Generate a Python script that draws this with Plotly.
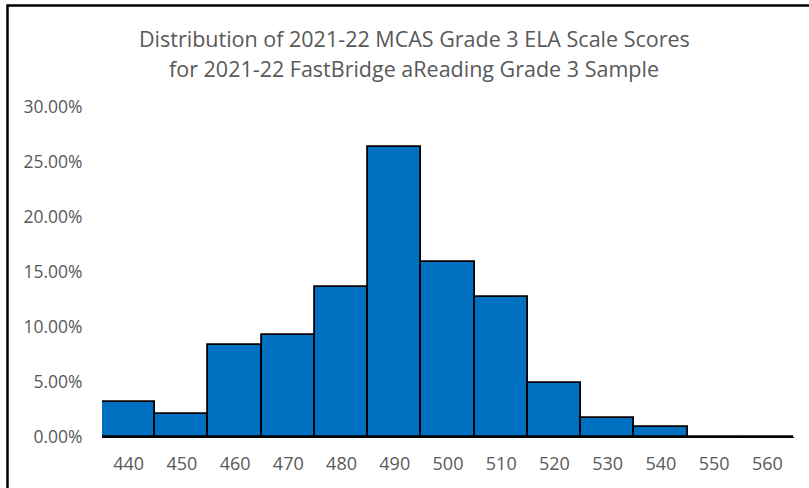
import plotly.graph_objects as go

# Scale score bins and share of students in each bin
scores = ["440", "450", "460", "470", "480", "490", "500", "510", "520", "530", "540", "550", "560"]
pct = [0.032, 0.021, 0.084, 0.093, 0.136, 0.264, 0.159, 0.127, 0.049, 0.017, 0.009, 0.0, 0.0]
y_ticks = [0, 0.05, 0.10, 0.15, 0.20, 0.25, 0.30]
title_lines = [
    "Distribution of 2021-22 MCAS Grade 3 ELA Scale Scores",
    "for 2021-22 FastBridge aReading Grade 3 Sample",
]

W, H = 809, 488
ML, MR, MT, MB = 102, 15, 107, 51
GRAY = "#595959"
FONT = "'Open Sans', 'Liberation Sans', sans-serif"

fig = go.Figure()
fig.add_trace(go.Bar(
    x=scores, y=pct,
    marker=dict(color="#0070C0", line=dict(color="black", width=1.8)),
    hovertemplate="%{x}: %{y:.2%}<extra></extra>",
))

pw, ph = W - ML - MR, H - MT - MB


def px_x(x):
    return (x - ML) / pw


def px_y(y):
    return (H - MB - y) / ph


# outer chart border (only left and top edges fall inside the picture)
fig.add_shape(type="rect", xref="paper", yref="paper",
              x0=px_x(7.5), x1=px_x(W + 20), y0=px_y(H + 20), y1=px_y(5.5),
              line=dict(color="black", width=2.5), fillcolor="rgba(0,0,0,0)", layer="above")

# two-line title
for text, yc in zip(title_lines, [38, 68]):
    fig.add_annotation(text=text, xref="paper", yref="paper",
                       x=px_x(414), y=px_y(yc), xanchor="center", yanchor="middle",
                       showarrow=False, font=dict(size=21.5, color=GRAY, family=FONT))

fig.update_layout(
    width=W, height=H,
    margin=dict(l=ML, r=MR, t=MT, b=MB),
    paper_bgcolor="white", plot_bgcolor="white",
    font=dict(family=FONT, color=GRAY),
    bargap=0,
    showlegend=False,
)
fig.update_xaxes(
    type="category", showline=True, linecolor="black", linewidth=1.2,
    showgrid=False, ticks="outside", ticklen=10, tickcolor="rgba(0,0,0,0)",
    tickfont=dict(size=18, color=GRAY),
)
fig.update_yaxes(
    range=[0, 0.30], tickvals=y_ticks, tickformat=".2%",
    showgrid=False, zeroline=False, showline=False,
    ticks="outside", ticklen=15, tickcolor="rgba(0,0,0,0)",
    tickfont=dict(size=17.5, color=GRAY),
)

fig.write_html("out.html", config={"displayModeBar": False},
               post_script="document.body.style.margin='0';")
